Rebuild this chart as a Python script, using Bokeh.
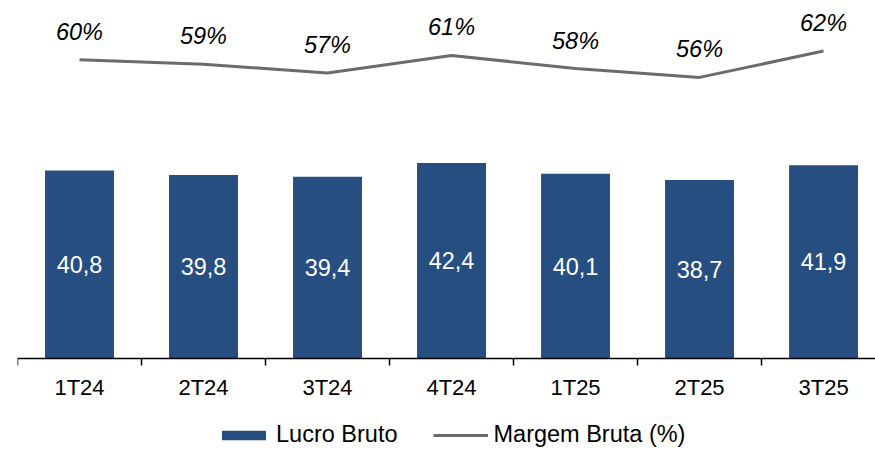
from bokeh.plotting import figure
from bokeh.models import (ColumnDataSource, Range1d, LinearAxis, FixedTicker,
                          Legend, LegendItem, LabelSet)
from bokeh.core.properties import value
from bokeh.embed import file_html
from bokeh.resources import INLINE

categories = ["1T24", "2T24", "3T24", "4T24", "1T25", "2T25", "3T25"]
lucro_bruto = [40.8, 39.8, 39.4, 42.4, 40.1, 38.7, 41.9]
margem_bruta = [60, 59, 57, 61, 58, 56, 62]

FONT = "Liberation Sans"
BAR_COLOR = "#264e80"
LINE_COLOR = "#6b6b6b"

xs = [i + 0.5 for i in range(len(categories))]
src = ColumnDataSource(dict(
    x=xs,
    lucro=lucro_bruto,
    lucro_mid=[v / 2 for v in lucro_bruto],
    lucro_lbl=[f"{v:.1f}".replace(".", ",") for v in lucro_bruto],
    margem=margem_bruta,
    margem_lbl=[f"{v}%" for v in margem_bruta],
))

p = figure(frame_width=858, frame_height=441, output_backend="svg", toolbar_location=None,
           x_range=Range1d(0, 6.919), y_range=Range1d(-19.74, 75.92),
           min_border_left=17, min_border_right=0, min_border_top=8, min_border_bottom=0,
           x_axis_location=None, y_axis_location=None)
p.extra_y_ranges = {"pct": Range1d(-28.57, 71.66)}
p.grid.visible = False
p.outline_line_color = None
p.background_fill_color = "white"
p.border_fill_color = "white"

bars = p.vbar(x="x", top="lucro", width=0.556, bottom=0, source=src,
              fill_color=BAR_COLOR, line_color=None)
line = p.line(x="x", y="margem", source=src, line_color=LINE_COLOR,
              line_width=3, y_range_name="pct")

p.add_layout(LabelSet(x="x", y="lucro_mid", text="lucro_lbl", source=src,
                      text_align="center", text_baseline="middle",
                      text_color="white", text_font=value(FONT), text_font_size="23.5px"))
p.add_layout(LabelSet(x="x", y="margem", text="margem_lbl", source=src,
                      y_range_name="pct", y_offset=28,
                      text_align="center", text_baseline="middle",
                      text_color="black", text_font=value(FONT), text_font_size="23.5px",
                      text_font_style="italic"))

xaxis = LinearAxis(ticker=FixedTicker(ticks=xs, minor_ticks=list(range(len(categories) + 1))),
                   major_label_overrides={x: c for x, c in zip(xs, categories)},
                   fixed_location=0)
xaxis.axis_line_color = "black"
xaxis.axis_line_width = 1.5
xaxis.major_tick_line_color = None
xaxis.major_tick_out = 0
xaxis.major_tick_in = 0
xaxis.minor_tick_line_color = "black"
xaxis.minor_tick_line_width = 1.5
xaxis.minor_tick_out = 7
xaxis.minor_tick_in = 0
xaxis.major_label_standoff = 10
xaxis.major_label_text_font = FONT
xaxis.major_label_text_font_size = "22px"
xaxis.major_label_text_color = "black"
p.add_layout(xaxis, "below")

legend = Legend(items=[LegendItem(label="Lucro Bruto", renderers=[bars]),
                       LegendItem(label="Margem Bruta (%)", renderers=[line])],
                orientation="horizontal", location=(199, 1),
                glyph_width=55, glyph_height=12, label_standoff=5, spacing=36,
                padding=0, margin=0, border_line_color=None, background_fill_alpha=0,
                label_text_font=FONT, label_text_font_size="23.5px", label_text_color="black")
p.add_layout(legend, "center")

open("out.html", "w").write(file_html(p, INLINE))
